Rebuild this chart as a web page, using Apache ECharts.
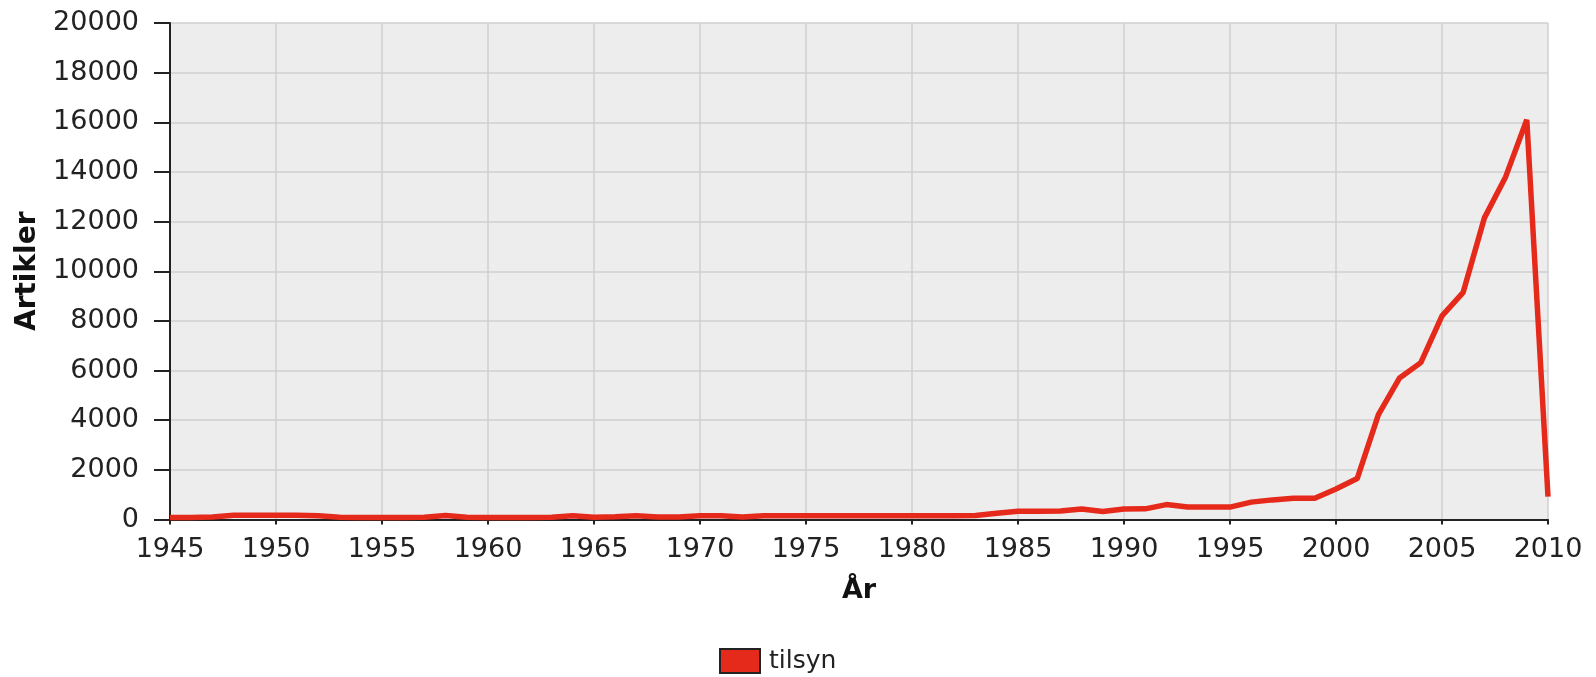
<!DOCTYPE html>
<html>
<head>
<meta charset="utf-8">
<script src="https://cdn.jsdelivr.net/npm/echarts@6/dist/echarts.min.js"></script>
<style>
html,body{margin:0;padding:0;background:#fff;}
#chart{width:1596px;height:677px;}
</style>
</head>
<body>
<div id="chart"></div>
<script>
const years = [1945,1946,1947,1948,1949,1950,1951,1952,1953,1954,1955,1956,1957,1958,1959,1960,1961,1962,1963,1964,1965,1966,1967,1968,1969,1970,1971,1972,1973,1974,1975,1976,1977,1978,1979,1980,1981,1982,1983,1984,1985,1986,1987,1988,1989,1990,1991,1992,1993,1994,1995,1996,1997,1998,1999,2000,2001,2002,2003,2004,2005,2006,2007,2008,2009,2010];
const tilsyn = [80,80,100,170,170,170,170,150,90,80,80,80,90,160,90,80,80,80,90,150,90,110,150,100,100,150,150,100,150,150,150,150,150,150,150,150,150,150,160,250,330,330,340,420,320,420,430,600,500,500,500,700,790,860,860,1230,1650,4220,5700,6320,8200,9150,12150,13800,16100,920];
const seriesName = 'tilsyn';
const xTitle = 'År';
const yTitle = 'Artikler';

const chart = echarts.init(document.getElementById('chart'));
const font = 'DejaVu Sans';
chart.setOption({
  animation: false,
  backgroundColor: '#ffffff',
  grid: {left: 170, right: 48, top: 23, bottom: 157.5, show: true, backgroundColor: '#ededed', borderWidth: 0},
  legend: {
    left: 719, top: 648, padding: 0,
    icon: 'rect', itemWidth: 40, itemHeight: 24, itemGap: 10,
    itemStyle: {color: '#e52a1c', borderColor: '#222', borderWidth: 2},
    textStyle: {fontFamily: font, fontSize: 25, color: '#222', padding: [0, 0, 0, 4]},
    data: [seriesName]
  },
  xAxis: {
    type: 'value', min: 1945, max: 2010, interval: 5,
    name: xTitle, nameLocation: 'middle', nameGap: 58,
    nameTextStyle: {fontFamily: font, fontSize: 27, fontWeight: 'bold', color: '#111'},
    axisLine: {show: true, lineStyle: {color: '#222', width: 2}},
    axisTick: {show: true, length: 5, lineStyle: {color: '#222', width: 2}},
    axisLabel: {fontFamily: font, fontSize: 27, color: '#222', margin: 17, formatter: v => String(v)},
    splitLine: {show: true, lineStyle: {color: '#cfcfcf', width: 1.5}}
  },
  yAxis: {
    type: 'value', min: 0, max: 20000, interval: 2000,
    name: yTitle, nameLocation: 'middle', nameGap: 123, nameRotate: 90,
    nameTextStyle: {fontFamily: font, fontSize: 28, fontWeight: 'bold', color: '#111'},
    axisLine: {show: true, lineStyle: {color: '#222', width: 2}},
    axisTick: {show: true, length: 16, lineStyle: {color: '#222', width: 2}},
    axisLabel: {fontFamily: font, fontSize: 27, color: '#222', margin: 31, formatter: v => String(v)},
    splitLine: {show: true, lineStyle: {color: '#cfcfcf', width: 1.5}}
  },
  series: [{
    name: seriesName, type: 'line',
    data: years.map((y, i) => [y, tilsyn[i]]),
    showSymbol: false, symbol: 'none',
    lineStyle: {color: '#e52a1c', width: 5.5},
    itemStyle: {color: '#e52a1c'}
  }]
});
</script>
</body>
</html>
